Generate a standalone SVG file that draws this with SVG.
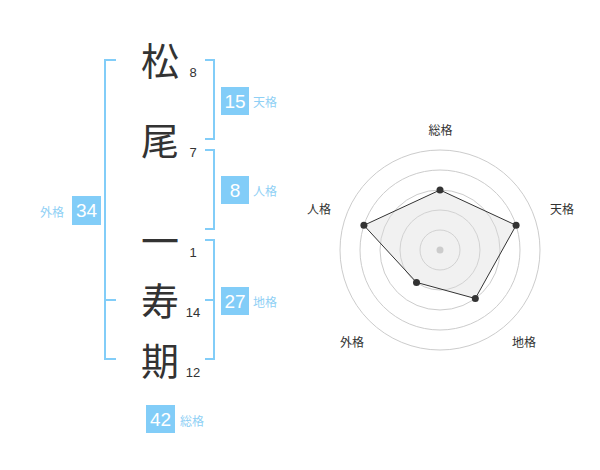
<svg xmlns="http://www.w3.org/2000/svg" width="600" height="470" viewBox="0 0 600 470">
<style>
.ch{font-family:"Noto Sans CJK JP","Noto Sans CJK SC",sans-serif;font-size:38px;fill:#333;text-anchor:middle}
.st{font-family:"Liberation Sans",Arial,sans-serif;font-size:13px;fill:#333;text-anchor:middle}
.br{fill:none;stroke:#82cdf8;stroke-width:2}
.bx{fill:#82cdf8}
.bn{font-family:"Liberation Sans",Arial,sans-serif;font-size:19px;fill:#fff;text-anchor:middle}
.lb{font-family:"Noto Sans CJK JP","Noto Sans CJK SC",sans-serif;font-size:12px;fill:#8fd0f5}
.rl{font-family:"Noto Sans CJK JP","Noto Sans CJK SC",sans-serif;font-size:12px;fill:#333;text-anchor:middle}
.gc{fill:none;stroke:#cccccc;stroke-width:1}
</style>
<rect width="600" height="470" fill="#fff"/>
<g id="chars">
<text class="ch" x="160" y="75">松</text>
<text class="st" x="193" y="77">8</text>
<text class="ch" x="160" y="155">尾</text>
<text class="st" x="193" y="157">7</text>
<text class="ch" x="160" y="255">一</text>
<text class="st" x="193" y="257">1</text>
<text class="ch" x="160" y="315">寿</text>
<text class="st" x="193" y="317">14</text>
<text class="ch" x="160" y="375">期</text>
<text class="st" x="193" y="377">12</text>
</g>
<g id="connectors">
<path class="br" d="M116,60 H105 V359 H116 M105,300 H116"/>
<path class="br" d="M205,60 H214 V139 H205"/>
<path class="br" d="M205,150 H214 V229 H205"/>
<path class="br" d="M205,240 H214 V359 H205 M205,300 H214"/>
</g>
<g id="tenkaku">
<rect class="bx" x="221" y="87" width="28" height="28"/>
<text class="bn" x="235" y="108">15</text>
<text class="lb" x="253" y="107">天格</text>
</g>
<g id="jinkaku">
<rect class="bx" x="221" y="176" width="28" height="28"/>
<text class="bn" x="235" y="197">8</text>
<text class="lb" x="253" y="196">人格</text>
</g>
<g id="chikaku">
<rect class="bx" x="221" y="287" width="28" height="28"/>
<text class="bn" x="235" y="308">27</text>
<text class="lb" x="253" y="307">地格</text>
</g>
<g id="gaikaku">
<rect class="bx" x="72" y="196" width="29" height="29"/>
<text class="bn" x="86.5" y="217">34</text>
<text class="lb" x="40" y="217">外格</text>
</g>
<g id="soukaku">
<rect class="bx" x="146" y="405" width="29" height="28"/>
<text class="bn" x="160.5" y="426">42</text>
<text class="lb" x="180" y="426">総格</text>
</g>
<g id="radar">
<circle class="gc" cx="440" cy="250" r="20"/>
<circle class="gc" cx="440" cy="250" r="40"/>
<circle class="gc" cx="440" cy="250" r="60"/>
<circle class="gc" cx="440" cy="250" r="80"/>
<circle class="gc" cx="440" cy="250" r="100"/>
<polygon points="440,190 516.1,225.3 475.3,298.5 416.5,282.4 363.9,225.3" fill="#dddddd" fill-opacity="0.4" stroke="#333" stroke-width="1"/>
<circle cx="440" cy="250" r="3.5" fill="#cccccc"/>
<g fill="#333">
<circle cx="440" cy="190" r="3.5"/>
<circle cx="516.1" cy="225.3" r="3.5"/>
<circle cx="475.3" cy="298.5" r="3.5"/>
<circle cx="416.5" cy="282.4" r="3.5"/>
<circle cx="363.9" cy="225.3" r="3.5"/>
</g>
<text class="rl" x="440.5" y="134.5">総格</text>
<text class="rl" x="562" y="213.5">天格</text>
<text class="rl" x="524" y="346.5">地格</text>
<text class="rl" x="352" y="346.5">外格</text>
<text class="rl" x="319" y="213.5">人格</text>
</g>
</svg>
